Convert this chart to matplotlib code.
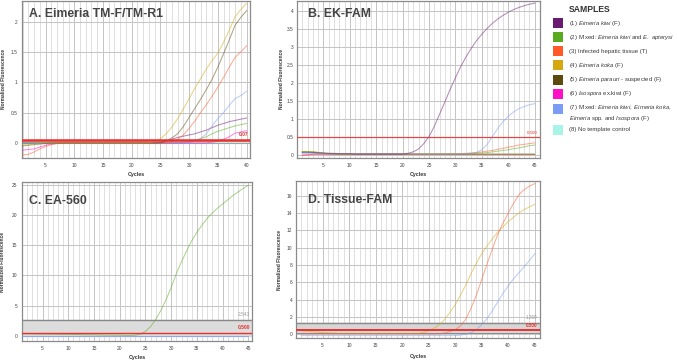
import matplotlib
matplotlib.use("Agg")
import matplotlib.pyplot as plt
import numpy as np

plt.rcParams['font.family'] = ['Liberation Sans', 'DejaVu Sans']
plt.rcParams['mathtext.fontset'] = 'custom'
plt.rcParams['mathtext.rm'] = 'Liberation Sans'
plt.rcParams['mathtext.it'] = 'Liberation Sans:italic'

W, H = 677, 363

# ---------------- data ----------------
sample_labels = [
    r"(1) $\it{Eimeria\ kiwi}$ (F)",
    r"(2) Mixed: $\it{Eimeria\ kiwi}$ and $\it{E.\ apterysi}$",
    r"(3) Infected hepatic tissue (T)",
    r"(4) $\it{Eimeria\ koka}$ (F)",
    r"(5) $\it{Eimeria\ parauri}$ - suspected (F)",
    r"(6) $\it{Isospora}$ ex.kiwi (F)",
    "(7) Mixed: $\\it{Eimeria\\ kiwi,\\ Eimeria\\ koka,}$\n$\\it{Eimeria}$ spp. and $\\it{Isospora}$ (F)",
    r"(8) No template control",
]
sample_colors = ["#6B1A72", "#5AAA1E", "#FF5A28", "#D4A80E",
                 "#5C4A0E", "#FF10C8", "#7B9CF5", "#A8F5E8"]

cycles_a = list(range(1, 41))
cycles_45 = list(range(1, 46))

# Panel A (cycles 1-40)
a_s1 = [0]*24 + [0.01, 0.03, 0.06, 0.09, 0.11, 0.13, 0.15, 0.18, 0.21, 0.25, 0.29, 0.32, 0.35, 0.37, 0.39, 0.41]
a_s2 = [0]*28 + [0.01, 0.02, 0.04, 0.07, 0.10, 0.15, 0.19, 0.22, 0.25, 0.28, 0.30, 0.32]
a_s3 = [-0.20, -0.19, -0.15, -0.10, -0.06, -0.03, -0.01] + [0]*19 + [0.02, 0.06, 0.13, 0.24, 0.36, 0.50, 0.63, 0.77, 0.92, 1.08, 1.25, 1.41, 1.50, 1.60]
a_s4 = [-0.03, -0.03, -0.02, -0.01] + [0]*19 + [0.02, 0.07, 0.15, 0.26, 0.40, 0.56, 0.73, 0.90, 1.06, 1.22, 1.36, 1.48, 1.66, 1.86, 2.08, 2.20, 2.30]
a_s5 = [-0.05, -0.04, -0.03, -0.02, -0.01] + [0]*20 + [0.03, 0.08, 0.15, 0.27, 0.42, 0.57, 0.72, 0.88, 1.05, 1.25, 1.47, 1.70, 1.94, 2.07, 2.18]
a_s6 = [-0.12, -0.11, -0.10, -0.07, -0.04, -0.02, -0.01] + [0]*26 + [0.01, 0.03, 0.06, 0.10, 0.16, 0.18, 0.20]
a_s7 = [0]*30 + [0.03, 0.07, 0.15, 0.28, 0.40, 0.50, 0.62, 0.73, 0.78, 0.85]
a_s8 = [0.01]*40

# Panel B (cycles 1-45)
b_s1 = [0.07, 0.07, 0.07, 0.06, 0.06, 0.05, 0.05, 0.04, 0.04, 0.04] + [0.03]*10 + \
       [0.05, 0.09, 0.17, 0.32, 0.52, 0.80, 1.14, 1.48, 1.83, 2.15, 2.46, 2.73, 2.97, 3.18, 3.36,
        3.52, 3.66, 3.78, 3.88, 3.97, 4.04, 4.10, 4.15, 4.19, 4.22]
b_s2 = [0.10, 0.10, 0.09, 0.07, 0.05, 0.04] + [0.03]*26 + \
       [0.04, 0.05, 0.06, 0.07, 0.09, 0.11, 0.13, 0.15, 0.18, 0.20, 0.23, 0.26, 0.28]
b_s3 = [0.00, 0.01, 0.02] + [0.03]*27 + \
       [0.04, 0.05, 0.06, 0.07, 0.09, 0.11, 0.13, 0.16, 0.19, 0.22, 0.25, 0.28, 0.30, 0.32, 0.34]
b_s4 = [0.10, 0.10, 0.10, 0.08, 0.06, 0.05, 0.04] + [0.03]*38
b_s5 = [0.09, 0.09, 0.08, 0.07, 0.05, 0.04, 0.03] + [0.02]*38
b_s6 = [0.00, 0.01] + [0.02]*43
b_s7 = [0.06, 0.06, 0.05, 0.05, 0.04, 0.04] + [0.03]*25 + \
       [0.04, 0.05, 0.08, 0.15, 0.30, 0.52, 0.74, 0.93, 1.08, 1.20, 1.29, 1.35, 1.40, 1.43]
b_s8 = [0.07]*45

# Panel C (cycles 1-45)
c_s2 = [0.30, 0.30, 0.28, 0.27, 0.26, 0.25, 0.24, 0.22, 0.21, 0.20, 0.18, 0.17, 0.15, 0.13,
        0.12, 0.10, 0.08, 0.07, 0.06, 0.05, 0.02, 0.01, 0.05, 0.25, 0.70, 1.50, 2.70, 4.20,
        6.00, 8.00, 10.3, 12.3, 14.1, 15.8, 17.2, 18.4, 19.5, 20.4, 21.2, 21.9, 22.6, 23.3,
        23.9, 24.5, 25.0]
c_s7 = [-0.10]*45

# Panel D (cycles 1-45)
d_s3 = [0.05]*26 + [0.05, 0.15, 0.30, 0.55, 0.95, 1.75, 3.00, 4.50, 6.30, 8.10, 9.80, 11.5,
                    12.8, 14.0, 15.1, 16.1, 16.7, 17.1, 17.4]
d_s4 = [0.40, 0.35, 0.30, 0.25, 0.20, 0.16, 0.13, 0.10] + [0.10]*15 + \
       [0.20, 0.40, 0.70, 1.10, 1.70, 2.50, 3.40, 4.50, 5.70, 7.00, 8.20, 9.30, 10.2, 11.0,
        11.8, 12.4, 13.0, 13.5, 14.0, 14.4, 14.7, 15.0]
d_s7 = [-0.15]*30 + [-0.10, 0.00, 0.20, 0.55, 1.10, 1.80, 2.70, 3.70, 4.70, 5.60, 6.40, 7.10,
                     7.80, 8.50, 9.30]

RED = "#E8312F"


def make_axes(l, t, r, b):
    return fig.add_axes([l / W, 1 - b / H, (r - l) / W, (b - t) / H])


def style(ax, xlim, ylim, yticks, xticks, ylab_px, xlab_px, width_px, height_px, ypad=3.5):
    ax.set_xlim(*xlim)
    ax.set_ylim(*ylim)
    ax.set_xticks(xticks)
    ax.set_xticks(range(int(np.ceil(xlim[0])), int(xlim[1]) + 1), minor=True)
    ax.set_yticks(yticks)
    ax.set_yticklabels([fmt_num(v) for v in yticks])
    ax.grid(True, which='minor', axis='x', color='#d9d9d9', lw=0.6)
    ax.grid(True, which='major', axis='x', color='#c4c4c4', lw=0.7)
    ax.grid(True, which='major', axis='y', color='#c4c4c4', lw=0.7)
    ax.set_axisbelow(True)
    ax.tick_params(which='both', length=0, labelsize=3.5, colors='#444444')
    ax.tick_params(axis='x', pad=3.5)
    ax.tick_params(axis='y', pad=ypad)
    for s in ax.spines.values():
        s.set_color('#8a8a8a')
        s.set_linewidth(0.9)
    ax.set_ylabel("Normalized Fluorescence", fontsize=3.5, fontweight='bold', color='#333333')
    ax.set_xlabel("Cycles", fontsize=3.8, fontweight='bold', color='#333333')
    ax.yaxis.set_label_coords(-ylab_px / width_px, 0.5)
    ax.xaxis.set_label_coords(0.5, -xlab_px / height_px)


def fmt_num(v):
    if float(v).is_integer():
        return str(int(v))
    return ("%g" % v)


fig = plt.figure(figsize=(W / 100, H / 100), dpi=100)
fig.patch.set_facecolor('white')

ALPHA = 0.5
LW = 0.75
TITLE_FS = 8.8

# ---------- Panel A ----------
axA = make_axes(22, 1, 250, 158)
style(axA, (0.9, 40.6), (-0.25, 2.34), [0, 0.5, 1, 1.5, 2],
      [5, 10, 15, 20, 25, 30, 35, 40], 16, 14, 228, 157)
axA.axhspan(-0.005, 0.055, color='#dddddd', zorder=1)
axA.axhline(-0.005, color='#999999', lw=0.6, zorder=2)
for data, c in zip([a_s8, a_s1, a_s2, a_s7, a_s6, a_s3, a_s5, a_s4],
                   [7, 0, 1, 6, 5, 2, 4, 3]):
    axA.plot(cycles_a, data, color=sample_colors[c], alpha=ALPHA, lw=LW, zorder=3)
axA.axhline(0.055, color=RED, lw=1.8, zorder=4)
axA.text(40.3, 0.09, "0.07", color=RED, fontsize=3.5, fontweight='bold', ha='right', va='bottom', zorder=5)
axA.text(0.03, 0.955, "A. Eimeria TM-F/TM-R1", transform=axA.transAxes, fontsize=TITLE_FS,
         fontweight='bold', color='#444444', va='top', ha='left')

# ---------- Panel B ----------
axB = make_axes(297, 1, 540, 158)
style(axB, (0, 46), (-0.08, 4.28), [0, 0.5, 1, 1.5, 2, 2.5, 3, 3.5, 4],
      [5, 10, 15, 20, 25, 30, 35, 40, 45], 13, 14, 243, 157, ypad=2.3)
for data, c in zip([b_s8, b_s6, b_s5, b_s4, b_s2, b_s3, b_s7, b_s1],
                   [7, 5, 4, 3, 1, 2, 6, 0]):
    axB.plot(cycles_45, data, color=sample_colors[c], alpha=ALPHA, lw=LW, zorder=3)
axB.axhline(0.5, color=RED, lw=0.9, alpha=0.85, zorder=4)
axB.text(45.5, 0.57, "0.500", color=RED, fontsize=3.2, ha='right', va='bottom', zorder=5)
axB.text(0.045, 0.955, "B. EK-FAM", transform=axB.transAxes, fontsize=TITLE_FS,
         fontweight='bold', color='#444444', va='top', ha='left')

# ---------- Panel C ----------
axC = make_axes(22, 182, 252, 341)
style(axC, (1.0, 45.7), (-0.9, 25.55), [0, 5, 10, 15, 20, 25],
      [5, 10, 15, 20, 25, 30, 35, 40, 45], 17, 14, 230, 159)
axC.axhspan(-0.1, 2.543, color='#dcdcdc', zorder=1)
axC.axhline(2.543, color='#888888', lw=1.0, zorder=2)
axC.plot(cycles_45, c_s7, color=sample_colors[6], alpha=0.8, lw=LW, zorder=3)
axC.plot(cycles_45, c_s2, color=sample_colors[1], alpha=ALPHA, lw=LW, zorder=3)
axC.axhline(0.5, color=RED, lw=1.0, zorder=4)
axC.text(45.4, 3.1, "2.543", color='#999999', fontsize=3.5, ha='right', va='bottom', zorder=5)
axC.text(45.4, 0.9, "0.500", color=RED, fontsize=3.5, fontweight='bold', ha='right', va='bottom', zorder=5)
axC.text(0.03, 0.92, "C. EA-560", transform=axC.transAxes, fontsize=TITLE_FS,
         fontweight='bold', color='#444444', va='top', ha='left')

# ---------- Panel D ----------
axD = make_axes(296, 181, 540, 338)
style(axD, (0, 46), (-0.43, 17.7), [0, 2, 4, 6, 8, 10, 12, 14, 16],
      [5, 10, 15, 20, 25, 30, 35, 40, 45], 14, 16, 244, 157, ypad=2.5)
axD.axhspan(0.1, 1.269, color='#d6d6d6', zorder=1)
axD.axhline(1.269, color='#8a8a8a', lw=1.0, zorder=2)
axD.axhline(0.1, color='#8a8a8a', lw=0.7, zorder=2)
for data, c in zip([d_s7, d_s4, d_s3], [6, 3, 2]):
    axD.plot(cycles_45, data, color=sample_colors[c], alpha=ALPHA, lw=LW, zorder=3)
axD.axhline(0.5, color=RED, lw=1.4, zorder=4)
axD.text(45.5, 1.6, "1.269", color='#999999', fontsize=3.3, ha='right', va='bottom', zorder=5)
axD.text(45.5, 0.75, "0.500", color=RED, fontsize=3.3, fontweight='bold', ha='right', va='bottom', zorder=5)
axD.text(0.05, 0.92, "D. Tissue-FAM", transform=axD.transAxes, fontsize=TITLE_FS,
         fontweight='bold', color='#444444', va='top', ha='left')

# ---------- Legend ----------
lax = fig.add_axes([0, 0, 1, 1])
lax.set_xlim(0, W)
lax.set_ylim(H, 0)
lax.axis('off')
lax.text(569, 10, "SAMPLES", fontsize=6.2, fontweight='bold', color='#333333', va='center', ha='left')
ycent = [23.3, 37.0, 51.3, 65.3, 79.8, 94.0, 109.0, 129.5]
ytext = [23.3, 37.0, 51.3, 65.3, 79.8, 94.0, 113.0, 129.5]
for i, (lab, col) in enumerate(zip(sample_labels, sample_colors)):
    lax.add_patch(plt.Rectangle((552.5, ycent[i] - 5), 10, 10, facecolor=col, edgecolor='none'))
    lax.text(569, ytext[i], lab, fontsize=4.35, color='#3a3a3a', va='center', ha='left',
             linespacing=1.4)

fig.savefig("out.png", dpi=100, facecolor='white')
